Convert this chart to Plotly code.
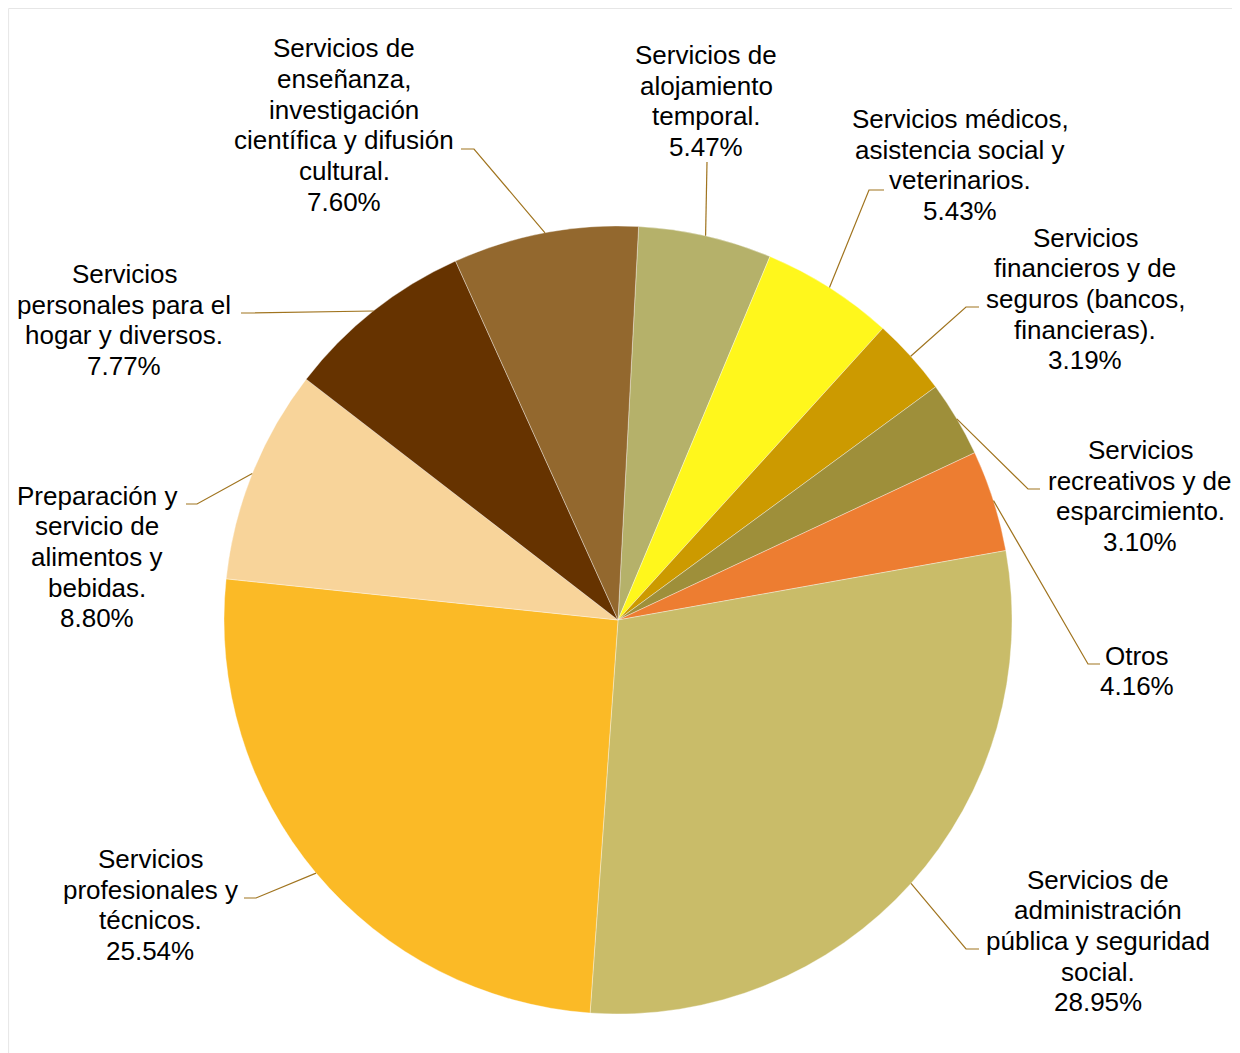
import math
import plotly.graph_objects as go

W, H = 1232, 1045   # figure size; the page places it 8px from the top-left
OFF = 8

# ---- data ----
categories = [
    "Servicios de<br>alojamiento<br>temporal.",
    "Servicios médicos,<br>asistencia social y<br>veterinarios.",
    "Servicios<br>financieros y de<br>seguros (bancos,<br>financieras).",
    "Servicios<br>recreativos y de<br>esparcimiento.",
    "Otros",
    "Servicios de<br>administración<br>pública y seguridad<br>social.",
    "Servicios<br>profesionales y<br>técnicos.",
    "Preparación y<br>servicio de<br>alimentos y<br>bebidas.",
    "Servicios<br>personales para el<br>hogar y diversos.",
    "Servicios de<br>enseñanza,<br>investigación<br>científica y difusión<br>cultural.",
]
shares = [5.47, 5.43, 3.19, 3.10, 4.16, 28.95, 25.54, 8.80, 7.77, 7.60]

# ---- styles / layout (page pixel positions) ----
colors = ["#B5B16A", "#FFF71C", "#CC9A00", "#9E8F3A", "#ED7D31",
          "#C9BC69", "#FBBA26", "#F8D49A", "#663300", "#93682E"]
rotation_deg = 3
center_px = (618, 620)
radius_px = 394
line_gap = 30.7
font_size = 26
label_pos = [(706, 101), (960, 165), (1085, 299), (1140, 496), (1137, 671),
             (1098, 941), (150, 905), (97, 557), (124, 320), (344, 125)]
elbows = [(707, 162), (869, 190), (966, 307), (1028, 489), (1088, 664),
          (966, 949), (256, 898), (197, 504), (252, 313), (474, 149)]
ends = [(707, 162), (884, 190), (979, 307), (1040, 489), (1100, 664),
        (979, 949), (244, 898), (186, 504), (241, 313), (461, 149)]
leader_color = "#A0741F"


def X(px):
    return (px - OFF) / W


def Y(py):
    return 1 - (py - OFF) / H


fig = go.Figure(go.Pie(
    labels=[c.replace("<br>", " ") for c in categories],
    values=shares,
    sort=False,
    direction="clockwise",
    rotation=rotation_deg,
    textinfo="none",
    marker=dict(colors=colors, line=dict(color="rgba(255,255,255,0.6)", width=0.6)),
    domain=dict(x=[X(center_px[0] - radius_px), X(center_px[0] + radius_px)],
                y=[Y(center_px[1] + radius_px), Y(center_px[1] - radius_px)]),
    showlegend=False,
    hoverinfo="label+percent",
))

total = sum(shares)
cum = 0.0
annotations = []
shapes = []
for i, (cat, v) in enumerate(zip(categories, shares)):
    mid = math.radians(rotation_deg + (cum + v / 2) / total * 360)
    cum += v
    sx = center_px[0] + radius_px * math.sin(mid)
    sy = center_px[1] - radius_px * math.cos(mid)
    ex, ey = elbows[i]
    tx, ty = ends[i]
    path = f"M {X(sx)},{Y(sy)} L {X(ex)},{Y(ey)} L {X(tx)},{Y(ty)}"
    shapes.append(dict(type="path", xref="paper", yref="paper", path=path,
                       line=dict(color=leader_color, width=1.2)))
    lines = cat.split("<br>") + [f"{v:.2f}%"]
    lx, ly = label_pos[i]
    n = len(lines)
    for k, t in enumerate(lines):
        yy = ly + (k - (n - 1) / 2) * line_gap
        annotations.append(dict(
            text=t, x=X(lx), y=Y(yy), xref="paper", yref="paper",
            xanchor="center", yanchor="middle", align="center", showarrow=False,
            font=dict(family="Liberation Sans, Arial, sans-serif", size=font_size,
                      color="#000000"),
        ))

shapes.append(dict(type="rect", xref="paper", yref="paper",
                   x0=0.0005, y0=-0.01, x1=1.01, y1=0.9995,
                   line=dict(color="#E6E6E6", width=1)))

fig.update_layout(
    width=W, height=H,
    margin=dict(l=0, r=0, t=0, b=0),
    paper_bgcolor="white", plot_bgcolor="white",
    annotations=annotations, shapes=shapes,
)

fig.write_html("out.html")
